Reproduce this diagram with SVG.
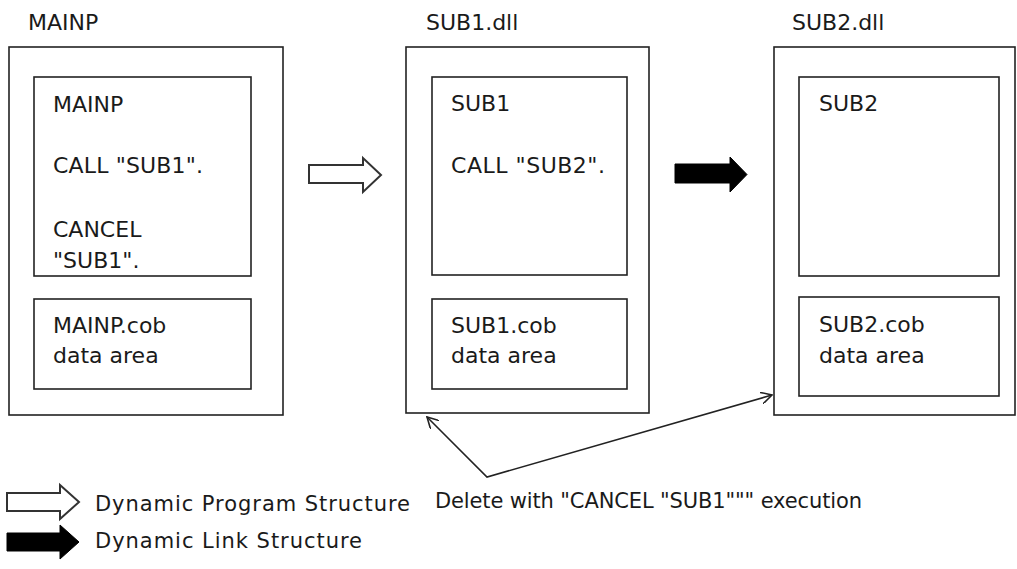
<svg xmlns="http://www.w3.org/2000/svg" width="1017" height="569" viewBox="0 0 1017 569">
<style>
.box{fill:#fff;stroke:#222;stroke-width:1.6}
.t{font-family:"DejaVu Sans","Liberation Sans",sans-serif;font-size:22px;fill:#1a1a1a}
.s{font-family:"DejaVu Sans","Liberation Sans",sans-serif;font-size:21px;fill:#1a1a1a}
.hollow{fill:#fff;stroke:#333;stroke-width:2;stroke-linejoin:miter}
.solid{fill:#000;stroke:#000;stroke-width:1}
.conn{fill:none;stroke:#222;stroke-width:1.6}
</style>
<defs>
<marker id="open" viewBox="0 0 12 12" refX="11" refY="6" markerWidth="12" markerHeight="12" markerUnits="userSpaceOnUse" orient="auto-start-reverse">
<path d="M0,0 L11,6 L0,12" fill="none" stroke="#222" stroke-width="1.6"/>
</marker>
</defs>
<rect width="1017" height="569" fill="#fff"/>

<g id="mainp">
<text class="t" x="28" y="30">MAINP</text>
<rect class="box" x="9" y="47" width="274" height="368"/>
<rect class="box" x="34" y="77" width="217" height="199"/>
<text class="t" x="53" y="112">MAINP</text>
<text class="t" x="53" y="173" textLength="150">CALL "SUB1".</text>
<text class="t" x="53" y="237">CANCEL</text>
<text class="t" x="53" y="268">"SUB1".</text>
<rect class="box" x="34" y="299" width="217" height="90"/>
<text class="t" x="53" y="333">MAINP.cob</text>
<text class="t" x="53" y="363">data area</text>
</g>

<g id="sub1">
<text class="t" x="426" y="30">SUB1.dll</text>
<rect class="box" x="406" y="47" width="243" height="366"/>
<rect class="box" x="432" y="77" width="195" height="198"/>
<text class="t" x="451" y="111">SUB1</text>
<text class="t" x="451" y="173" textLength="154">CALL "SUB2".</text>
<rect class="box" x="432" y="299" width="195" height="90"/>
<text class="t" x="451" y="333">SUB1.cob</text>
<text class="t" x="451" y="363">data area</text>
</g>

<g id="sub2">
<text class="t" x="792" y="30">SUB2.dll</text>
<rect class="box" x="774" y="47" width="241" height="368"/>
<rect class="box" x="799" y="77" width="200" height="199"/>
<text class="t" x="819" y="111">SUB2</text>
<rect class="box" x="799" y="297" width="200" height="99"/>
<text class="t" x="819" y="332">SUB2.cob</text>
<text class="t" x="819" y="363">data area</text>
</g>

<g id="connectors">
<polygon class="hollow" points="309,165 363,165 363,158 381,175 363,192 363,183 309,183"/>
<polygon class="solid" points="675,164 730,164 730,157 747,174.5 730,192 730,183 675,183"/>
<polyline class="conn" points="427,417 487,477 772,395" marker-start="url(#open)" marker-end="url(#open)"/>
</g>

<g id="delete-label">
<text class="s" x="435" y="508" textLength="427">Delete  with  "CANCEL  "SUB1""" execution</text>
</g>

<g id="legend">
<polygon class="hollow" points="7,493 60,493 60,485 79,502 60,519 60,511 7,511"/>
<text class="s" x="95" y="511" textLength="315">Dynamic  Program Structure</text>
<polygon class="solid" points="7,533 60,533 60,525 79,542 60,559 60,551 7,551"/>
<text class="s" x="95" y="548" textLength="267">Dynamic  Link  Structure</text>
</g>
</svg>
